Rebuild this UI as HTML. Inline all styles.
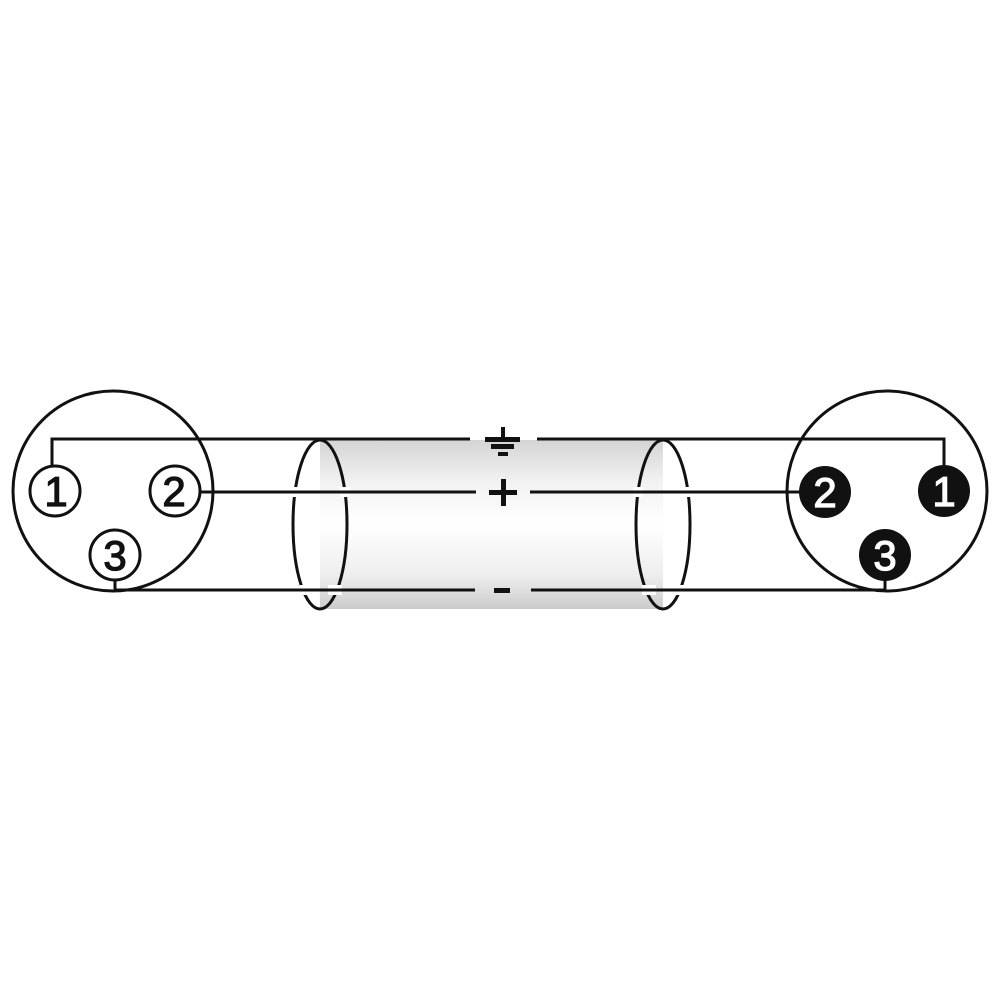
<!DOCTYPE html>
<html><head><style>body{margin:0;background:#fff}</style></head><body>
<svg width="1000" height="1000" xmlns="http://www.w3.org/2000/svg">
<defs>
<linearGradient id="g" x1="0" y1="0" x2="0" y2="1">
<stop offset="0" stop-color="#d4d4d4"/><stop offset="0.25" stop-color="#f2f2f2"/><stop offset="0.5" stop-color="#ffffff"/><stop offset="0.8" stop-color="#eeeeee"/><stop offset="1" stop-color="#cccccc"/>
</linearGradient>
</defs>
<rect x="320" y="440" width="343" height="169" fill="url(#g)"/>
<path d="M320 440 A27 84.5 0 0 1 320 609 Z" fill="url(#g)"/>
<path d="M320 440 A27 84.5 0 0 0 320 609 Z" fill="#fff"/>
<path d="M320 590 A27 84.5 0 0 0 320 609 L 320 609 Z" fill="#ddd"/>
<g stroke="#111" stroke-width="3" fill="none">
<ellipse cx="320" cy="524.5" rx="27" ry="84.5"/>
<ellipse cx="663" cy="524.5" rx="27" ry="84.5"/>
</g>
<g stroke="#fff" stroke-width="10">
<line x1="290" y1="492" x2="300" y2="492"/>
<line x1="340" y1="492" x2="350" y2="492"/>
<line x1="300" y1="590" x2="312" y2="590"/>
<line x1="328" y1="590" x2="342" y2="590"/>
<line x1="633" y1="492" x2="643" y2="492"/>
<line x1="683" y1="492" x2="693" y2="492"/>
<line x1="642" y1="590" x2="656" y2="590"/>
<line x1="670" y1="590" x2="684" y2="590"/>
</g>
<g stroke="#111" stroke-width="3" fill="none">
<circle cx="113" cy="491" r="100"/>
<circle cx="887" cy="491" r="100"/>
<polyline points="52,465 52,439 470,439"/>
<polyline points="537,439 944,439 944,465"/>
<line x1="200" y1="492" x2="476" y2="492"/>
<line x1="530" y1="492" x2="800" y2="492"/>
<polyline points="115,580 115,590 475,590"/>
<polyline points="531,590 885,590 885,580"/>
<circle cx="55" cy="491" r="25" fill="#fff"/>
<circle cx="175" cy="491" r="25" fill="#fff"/>
<circle cx="115" cy="555" r="25" fill="#fff"/>
</g>
<g fill="#111">
<circle cx="825" cy="492" r="26"/>
<circle cx="944" cy="491" r="26"/>
<circle cx="885" cy="555" r="26"/>
<rect x="501" y="427" width="4" height="13"/>
<rect x="485" y="437" width="35" height="5"/>
<rect x="491" y="444" width="23" height="5"/>
<rect x="498" y="452" width="10" height="4"/>
<rect x="489" y="490" width="28" height="5"/>
<rect x="501" y="479" width="5" height="27"/>
<rect x="494" y="588" width="16" height="5"/>
</g>
<g font-family="Liberation Sans, sans-serif" font-size="42" text-anchor="middle" stroke-width="1.2">
<text x="56" y="506" fill="#111" stroke="#111">1</text>
<text x="174" y="506" fill="#111" stroke="#111">2</text>
<text x="115" y="570" fill="#111" stroke="#111">3</text>
<text x="825" y="507" fill="#fff" stroke="#fff">2</text>
<text x="944" y="506" fill="#fff" stroke="#fff">1</text>
<text x="885" y="570" fill="#fff" stroke="#fff">3</text>
</g>
</svg>
</body></html>
